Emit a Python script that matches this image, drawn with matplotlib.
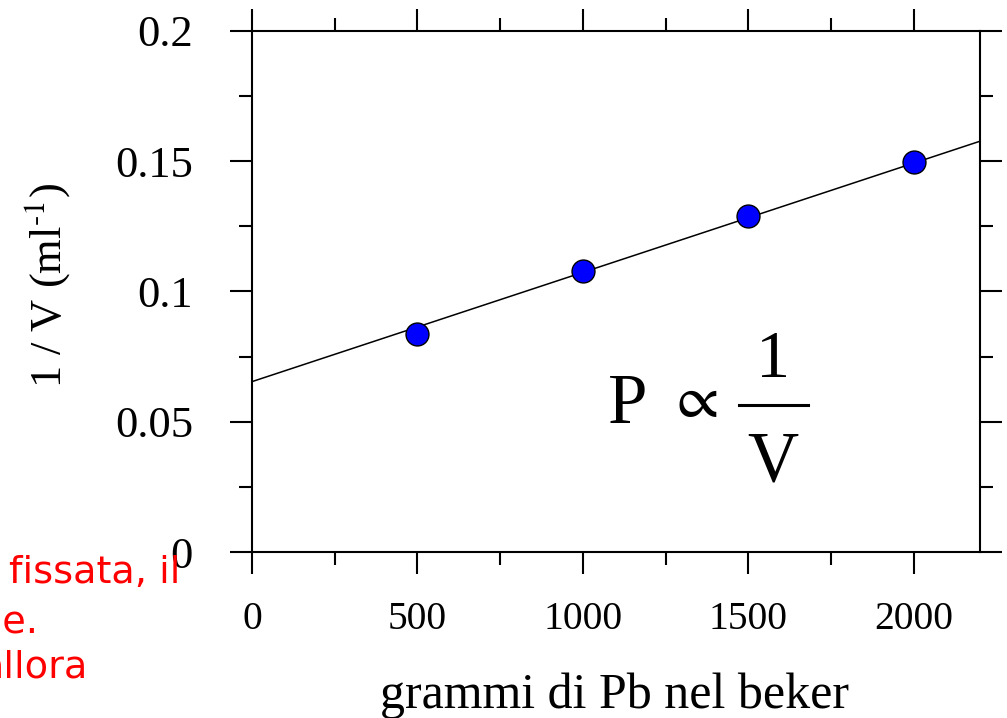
import matplotlib
matplotlib.use("Agg")
import matplotlib.pyplot as plt
from matplotlib.ticker import MultipleLocator, FuncFormatter
from matplotlib.lines import Line2D
import numpy as np

# data
grams = [500, 1000, 1500, 2000]
inv_volume = [0.0838, 0.1077, 0.1288, 0.1497]
fit_intercept = 0.0654
fit_slope = 4.195e-5
x_max = 2200

red_lines = ["fissata, il", "ne.", "allora"]

plt.rcParams['font.family'] = ['Liberation Serif', 'DejaVu Serif']
plt.rcParams['mathtext.fontset'] = 'stix'

W, H = 1007, 718
fig = plt.figure(figsize=(W / 100, H / 100), dpi=100)
ax = fig.add_axes([252 / W, 1 - 552 / H, 728 / W, 521 / H])


def fx(px):
    return px / W


def fy(py):
    return 1 - py / H


# fitted line across the full x range
xf = np.array([0, x_max])
ax.plot(xf, fit_intercept + fit_slope * xf, color='black', lw=1.1, zorder=2)
ax.plot(grams, inv_volume, 'o', ms=16.5, mfc='#0000ff', mec='black', mew=1.0, zorder=3)

ax.set_xlim(0, x_max)
ax.set_ylim(0, 0.2)
ax.xaxis.set_major_locator(MultipleLocator(500))
ax.xaxis.set_minor_locator(MultipleLocator(250))
ax.yaxis.set_major_locator(MultipleLocator(0.05))
ax.yaxis.set_minor_locator(MultipleLocator(0.025))
ax.yaxis.set_major_formatter(FuncFormatter(lambda v, p: '%g' % round(v, 3)))

for s in ax.spines.values():
    s.set_linewidth(1.5)
ax.tick_params(which='both', direction='out', top=True, right=True, width=1.5)
ax.tick_params(which='major', length=15.5)
ax.tick_params(which='minor', length=9.5)
ax.tick_params(axis='x', which='major', labelsize=28.5, pad=20)
ax.tick_params(axis='y', which='major', labelsize=32, pad=27)

ax.set_xlabel('grammi di Pb nel beker', fontsize=36, va='center')
ax.xaxis.set_label_coords((615 - 252) / 728, (552 - 696) / 521)
ax.set_ylabel(r'1 / V (ml$^{\text{-1}}$)', fontsize=32, va='center')
ax.yaxis.set_label_coords((47 - 252) / 728, (552 - 285) / 521)

# P proportional to 1/V, set by hand like the original
fig.text(fx(628), fy(423), 'P', fontsize=51, ha='center', va='baseline')
fig.text(fx(693), fy(402), r'$\propto$', fontsize=44, ha='center', va='center')
fig.text(fx(773), fy(377), '1', fontsize=49, ha='center', va='baseline')
fig.text(fx(773), fy(480), 'V', fontsize=51, ha='center', va='baseline')
fig.add_artist(Line2D([fx(739), fx(808)], [fy(405), fy(405)],
                      transform=fig.transFigure, color='black', lw=2.2))

# clipped red annotation text at the left edge
red_pos = [(180, 583), (38, 633), (88, 678)]
for txt, (px, py) in zip(red_lines, red_pos):
    fig.text(fx(px), fy(py), txt, color='red', fontsize=27.5,
             family='DejaVu Sans', ha='right', va='baseline', zorder=5)

fig.savefig('out.png', dpi=100)
